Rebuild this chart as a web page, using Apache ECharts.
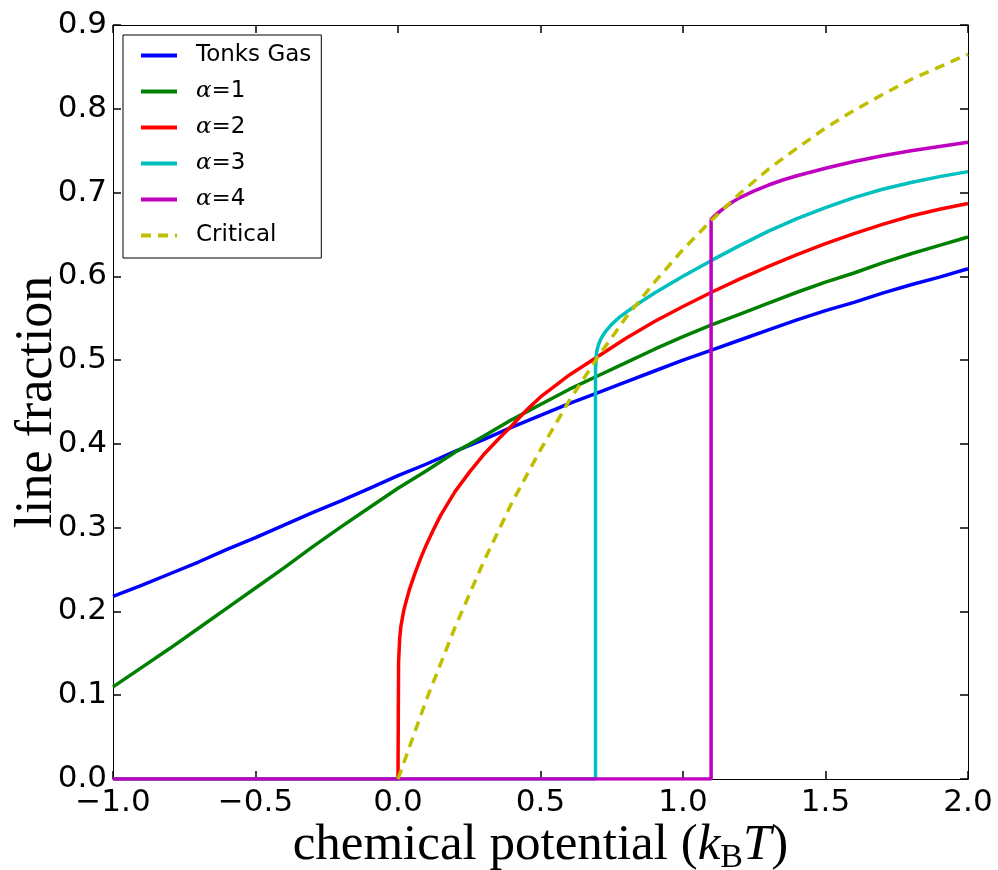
<!DOCTYPE html>
<html>
<head>
<meta charset="utf-8">
<title>line fraction</title>
<script src="https://cdn.jsdelivr.net/npm/echarts/dist/echarts.min.js"></script>
<style>
  html, body { margin: 0; padding: 0; background: #fff; }
  #chart { width: 998px; height: 870px; }
</style>
</head>
<body>
<div id="chart"></div>
<script>
// chemical potential grid shared by the Tonks gas and alpha=1 curves
var muGrid = [-1.0, -0.9, -0.8, -0.7, -0.6, -0.5, -0.4, -0.3, -0.2, -0.1, 0.0,
  0.1, 0.2, 0.3, 0.4, 0.5, 0.6, 0.7, 0.8, 0.9, 1.0,
  1.1, 1.2, 1.3, 1.4, 1.5, 1.6, 1.7, 1.8, 1.9, 2.0]
var tonks = [0.218, 0.231, 0.245, 0.259, 0.274, 0.288, 0.303, 0.318, 0.332, 0.347, 0.362,
  0.376, 0.391, 0.405, 0.420, 0.434, 0.448, 0.461, 0.474, 0.487, 0.500,
  0.512, 0.524, 0.536, 0.548, 0.559, 0.569, 0.580, 0.590, 0.599, 0.609]
var alpha1 = [0.110, 0.133, 0.156, 0.180, 0.204, 0.228, 0.252, 0.277, 0.301, 0.324, 0.347,
  0.368, 0.390, 0.409, 0.429, 0.447, 0.465, 0.481, 0.497, 0.513, 0.528,
  0.542, 0.555, 0.568, 0.581, 0.593, 0.604, 0.616, 0.627, 0.637, 0.647]

var muAlpha2 = [-1.0, 0.0, 0.002, 0.006, 0.01, 0.02, 0.03, 0.04, 0.06, 0.08, 0.1, 0.125, 0.15, 0.2, 0.25, 0.3, 0.35,
  0.4, 0.45, 0.5, 0.55, 0.6, 0.7, 0.8, 0.9, 1.0, 1.1, 1.2, 1.3, 1.4, 1.5, 1.6, 1.7, 1.8, 1.9, 2.0]
var alpha2 = [0, 0, 0.140, 0.168, 0.182, 0.201, 0.214, 0.226, 0.246, 0.264, 0.280, 0.298, 0.315, 0.343, 0.366, 0.387, 0.405,
  0.422, 0.440, 0.456, 0.469, 0.482, 0.504, 0.526, 0.546, 0.564, 0.581, 0.597, 0.612, 0.626, 0.639, 0.651, 0.662, 0.672, 0.680, 0.687]

var muAlpha3 = [-1.0, 0.693, 0.693, 0.697, 0.703, 0.71, 0.72, 0.73, 0.745, 0.76, 0.78, 0.8, 0.85, 0.9, 1.0,
  1.1, 1.2, 1.3, 1.4, 1.5, 1.6, 1.7, 1.8, 1.9, 2.0]
var alpha3 = [0, 0, 0.490, 0.510, 0.518, 0.524, 0.530, 0.535, 0.541, 0.546, 0.552, 0.557, 0.569, 0.580, 0.600,
  0.619, 0.637, 0.654, 0.669, 0.682, 0.694, 0.704, 0.712, 0.719, 0.725]

var muAlpha4 = [-1.0, 1.0986, 1.0986, 1.11, 1.12, 1.135, 1.15, 1.175, 1.2, 1.25, 1.3, 1.35, 1.4, 1.5, 1.6, 1.7, 1.8, 1.9, 2.0]
var alpha4 = [0, 0, 0.668, 0.672, 0.675, 0.679, 0.683, 0.689, 0.694, 0.702, 0.709, 0.715, 0.720, 0.729, 0.737, 0.744, 0.750, 0.755, 0.760]

var muCritical = [0.0, 0.1, 0.2, 0.3, 0.4, 0.5, 0.6, 0.7, 0.8, 0.9, 1.0,
  1.1, 1.2, 1.3, 1.4, 1.5, 1.6, 1.7, 1.8, 1.9, 2.0]
var critical = [0.000, 0.095, 0.181, 0.259, 0.330, 0.393, 0.451, 0.503, 0.551, 0.593, 0.632,
  0.667, 0.699, 0.728, 0.753, 0.777, 0.798, 0.817, 0.835, 0.850, 0.865]

var seriesNames = ['Tonks Gas', 'α=1', 'α=2', 'α=3', 'α=4', 'Critical']
var seriesColors = ['#0000ff', '#008000', '#ff0000', '#00bfbf', '#bf00bf', '#bfbf00']

function pairs(xs, ys) {
  return xs.map(function (x, i) { return [x, ys[i]] })
}

var chart = echarts.init(document.getElementById('chart'))

var tickFont = { fontFamily: 'DejaVu Sans', fontSize: 31, color: '#000' }

function lineSeries(idx, xs, ys, dashed) {
  return {
    name: seriesNames[idx],
    type: 'line',
    data: pairs(xs, ys),
    symbol: 'none',
    showSymbol: false,
    animation: false,
    lineStyle: {
      color: seriesColors[idx],
      width: 3.5,
      type: dashed ? [10, 7] : 'solid'
    },
    itemStyle: { color: seriesColors[idx] },
    z: 2 + idx
  }
}

chart.setOption({
  backgroundColor: '#fff',
  animation: false,
  grid: { left: 113, right: 30, top: 25, bottom: 91, containLabel: false, outerBoundsMode: 'none' },
  legend: {
    orient: 'vertical',
    left: 123,
    top: 35,
    data: seriesNames,
    backgroundColor: '#fff',
    borderColor: '#000',
    borderWidth: 1,
    borderRadius: 0,
    padding: [9, 10, 11, 16],
    itemWidth: 36,
    itemHeight: 22,
    itemGap: 13,
    itemStyle: { opacity: 0, borderWidth: 0 },
    lineStyle: { width: 4 },
    formatter: function (name) {
      if (name.indexOf('α=') === 0) {
        return '{a|α}{e|=}{n|' + name.slice(2) + '}'
      }
      return name
    },
    textStyle: {
      fontFamily: 'DejaVu Sans',
      fontSize: 23,
      lineHeight: 22,
      color: '#000',
      padding: [0, 0, 0, 14],
      rich: {
        a: { fontFamily: 'DejaVu Serif', fontStyle: 'italic', fontSize: 23, lineHeight: 22, color: '#000' },
        e: { fontFamily: 'DejaVu Serif', fontSize: 23, lineHeight: 22, color: '#000' },
        n: { fontFamily: 'DejaVu Sans', fontSize: 23, lineHeight: 22, color: '#000' }
      }
    }
  },
  xAxis: [{
    type: 'value',
    min: -1,
    max: 2,
    interval: 0.5,
    name: '{t|chemical potential (}{i|k}{s|B}{i|T}{t|)}',
    nameLocation: 'middle',
    nameGap: 38,
    nameMoveOverlap: false,
    nameTextStyle: {
      rich: {
        t: { fontFamily: 'Liberation Serif', fontSize: 51, color: '#000' },
        i: { fontFamily: 'Liberation Serif', fontStyle: 'italic', fontSize: 51, color: '#000' },
        s: { fontFamily: 'Liberation Serif', fontSize: 34, color: '#000', verticalAlign: 'bottom', padding: [24, 0, 0, 0] }
      }
    },
    axisLine: { onZero: false, lineStyle: { color: '#000', width: 1 } },
    axisTick: { inside: true, length: 8, lineStyle: { color: '#000', width: 1.5 } },
    axisLabel: {
      margin: 8,
      formatter: function (v) { return (v < 0 ? '\u2212' : '') + Math.abs(v).toFixed(1) },
      fontFamily: tickFont.fontFamily,
      fontSize: tickFont.fontSize,
      color: tickFont.color
    },
    splitLine: { show: false }
  }, {
    type: 'value',
    position: 'top',
    min: -1,
    max: 2,
    interval: 0.5,
    axisLine: { onZero: false, lineStyle: { color: '#000', width: 1 } },
    axisTick: { inside: true, length: 8, lineStyle: { color: '#000', width: 1.5 } },
    axisLabel: { show: false },
    splitLine: { show: false }
  }],
  yAxis: [{
    type: 'value',
    min: 0,
    max: 0.9,
    interval: 0.1,
    name: 'line fraction',
    nameLocation: 'middle',
    nameGap: 50,
    nameMoveOverlap: false,
    nameTextStyle: { fontFamily: 'Liberation Serif', fontSize: 52, color: '#000' },
    axisLine: { onZero: false, lineStyle: { color: '#000', width: 1 } },
    axisTick: { inside: true, length: 8, lineStyle: { color: '#000', width: 1.5 } },
    axisLabel: {
      margin: 6,
      formatter: function (v) { return v.toFixed(1) },
      fontFamily: tickFont.fontFamily,
      fontSize: tickFont.fontSize,
      color: tickFont.color
    },
    splitLine: { show: false }
  }, {
    type: 'value',
    position: 'right',
    min: 0,
    max: 0.9,
    interval: 0.1,
    axisLine: { onZero: false, lineStyle: { color: '#000', width: 1 } },
    axisTick: { inside: true, length: 8, lineStyle: { color: '#000', width: 1.5 } },
    axisLabel: { show: false },
    splitLine: { show: false }
  }],
  series: [
    lineSeries(0, muGrid, tonks),
    lineSeries(1, muGrid, alpha1),
    lineSeries(2, muAlpha2, alpha2),
    lineSeries(3, muAlpha3, alpha3),
    lineSeries(4, muAlpha4, alpha4),
    lineSeries(5, muCritical, critical, true)
  ]
})
</script>
</body>
</html>
